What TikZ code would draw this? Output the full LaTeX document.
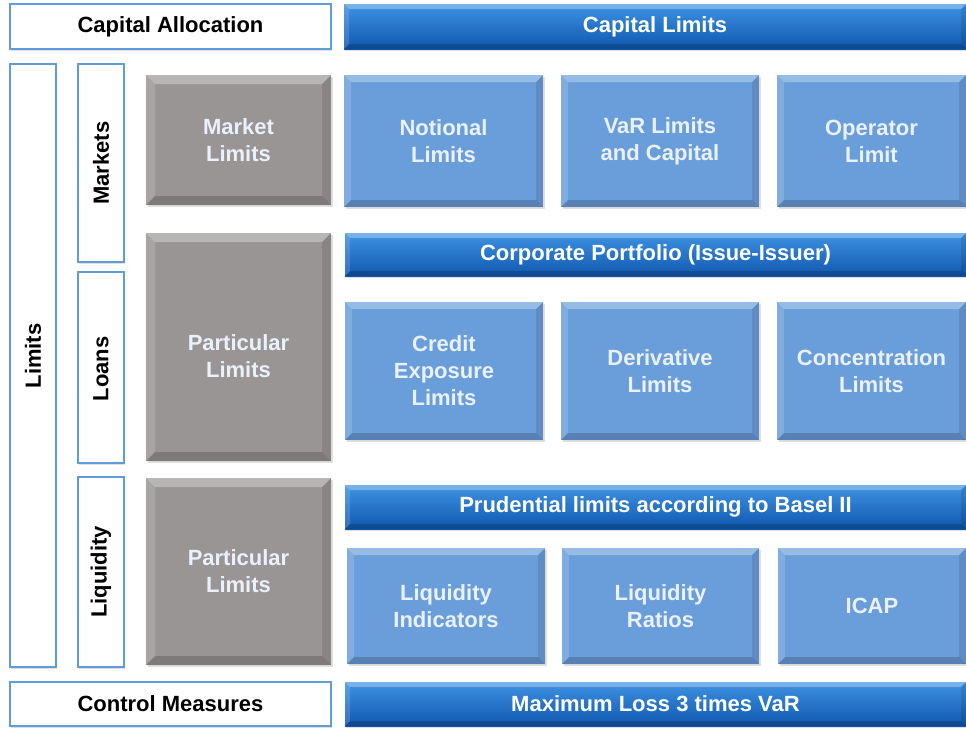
\documentclass[tikz,border=0pt]{standalone}
\usepackage{fontspec}
\setmainfont{Liberation Sans}
\usetikzlibrary{shadows}
\definecolor{bartop}{RGB}{62,146,226}
\definecolor{barbot}{RGB}{16,88,176}
\definecolor{boxblue}{RGB}{106,158,218}
\definecolor{boxtxt}{RGB}{234,241,250}
\definecolor{graybox}{RGB}{154,149,149}
\definecolor{frameblue}{RGB}{96,156,218}
\tikzset{
  base/.style={rectangle, inner sep=0pt, outer sep=0pt, align=center,
    font=\bfseries\fontsize{22}{27}\selectfont},
  sidelabel/.style={font=\bfseries\fontsize{22}{27}\selectfont, rotate=90, inner sep=0pt},
  bevel/.style={path picture={
    \fill[white,opacity=0.30] (path picture bounding box.north west) -- (path picture bounding box.north east)
      -- ([xshift=-#1,yshift=-#1]path picture bounding box.north east) -- ([xshift=#1,yshift=-#1]path picture bounding box.north west) -- cycle;
    \fill[white,opacity=0.15] (path picture bounding box.north west) -- (path picture bounding box.south west)
      -- ([xshift=#1,yshift=#1]path picture bounding box.south west) -- ([xshift=#1,yshift=-#1]path picture bounding box.north west) -- cycle;
    \fill[black,opacity=0.18] (path picture bounding box.south west) -- (path picture bounding box.south east)
      -- ([xshift=-#1,yshift=#1]path picture bounding box.south east) -- ([xshift=#1,yshift=#1]path picture bounding box.south west) -- cycle;
    \fill[black,opacity=0.10] (path picture bounding box.north east) -- (path picture bounding box.south east)
      -- ([xshift=-#1,yshift=#1]path picture bounding box.south east) -- ([xshift=-#1,yshift=-#1]path picture bounding box.north east) -- cycle;
  }},
  framebox/.style={base, fill=white, draw=frameblue, line width=1.6pt, text=black,
    drop shadow={shadow xshift=1pt, shadow yshift=-1.5pt, opacity=0.25}},
  darkbar/.style={base, top color=bartop, bottom color=barbot, text=white, bevel=5pt,
    drop shadow={shadow xshift=1pt, shadow yshift=-1.5pt, opacity=0.25}},
  lightbox/.style={base, fill=boxblue, text=boxtxt, bevel=7pt,
    drop shadow={shadow xshift=1.5pt, shadow yshift=-2pt, opacity=0.25}},
  grey/.style={base, fill=graybox, text=boxtxt, bevel=9pt,
    drop shadow={shadow xshift=1.5pt, shadow yshift=-2pt, opacity=0.25}},
  greytext/.style={base, text=boxtxt},
}
\begin{document}
\begin{tikzpicture}[x=1pt,y=-1pt]
\useasboundingbox (0,0) rectangle (966,728);
\fill[white] (0,0) rectangle (966,728);
% top row
\node[framebox, minimum width=321pt, minimum height=45pt] (capalloc) at (170.5,26.5) {Capital Allocation};
\node[darkbar, minimum width=622pt, minimum height=45pt] (caplimits) at (655,26.5) {Capital Limits};
% left vertical frames
\node[framebox, minimum width=46pt, minimum height=603pt] (limits) at (33,365.5) {};
\node[sidelabel] (limitstxt) at (33,356) {Limits};
\node[framebox, minimum width=46pt, minimum height=198pt] (markets) at (101,163) {};
\node[sidelabel] (marketstxt) at (101,163) {Markets};
\node[framebox, minimum width=46pt, minimum height=191pt] (loans) at (101,367.5) {};
\node[sidelabel] (loanstxt) at (101,369) {Loans};
\node[framebox, minimum width=46pt, minimum height=190pt] (liquidity) at (101,572) {};
\node[sidelabel] (liquiditytxt) at (101,572) {Liquidity};
% grey boxes
\node[grey, minimum width=185pt, minimum height=130pt] (mktlim) at (238.5,140) {Market\\Limits};
\node[grey, minimum width=185pt, minimum height=228pt] (part1) at (238.5,347) {};
\node[greytext] (part1txt) at (238.5,356) {Particular\\Limits};
\node[grey, minimum width=185pt, minimum height=187pt] (part2) at (238.5,571.5) {Particular\\Limits};
% markets row
\node[lightbox, minimum width=199pt, minimum height=132pt] (notional) at (443.5,141) {Notional\\Limits};
\node[lightbox, minimum width=198pt, minimum height=132pt] (var) at (660,141) {VaR Limits\\and Capital};
\node[lightbox, minimum width=189pt, minimum height=132pt] (operator) at (871.5,141) {Operator\\Limit};
% loans
\node[darkbar, minimum width=621pt, minimum height=43pt] (corp) at (655.5,254.5) {Corporate Portfolio (Issue-Issuer)};
\node[lightbox, minimum width=198pt, minimum height=138pt] (credit) at (444,371) {Credit\\Exposure\\Limits};
\node[lightbox, minimum width=198pt, minimum height=138pt] (deriv) at (660,371) {Derivative\\Limits};
\node[lightbox, minimum width=189pt, minimum height=138pt] (conc) at (871.5,371) {Concentration\\Limits};
% liquidity
\node[darkbar, minimum width=621pt, minimum height=44pt] (prud) at (655.5,507) {Prudential limits according to Basel II};
\node[lightbox, minimum width=198pt, minimum height=116pt] (liqind) at (446,606) {Liquidity\\Indicators};
\node[lightbox, minimum width=197pt, minimum height=116pt] (liqrat) at (660.5,606) {Liquidity\\Ratios};
\node[lightbox, minimum width=188pt, minimum height=116pt] (icap) at (872,606) {ICAP};
% bottom row
\node[framebox, minimum width=321pt, minimum height=44pt] (ctrl) at (170.5,704) {Control Measures};
\node[darkbar, minimum width=621pt, minimum height=44pt] (maxloss) at (655.5,704) {Maximum Loss 3 times VaR};
\end{tikzpicture}
\end{document}
